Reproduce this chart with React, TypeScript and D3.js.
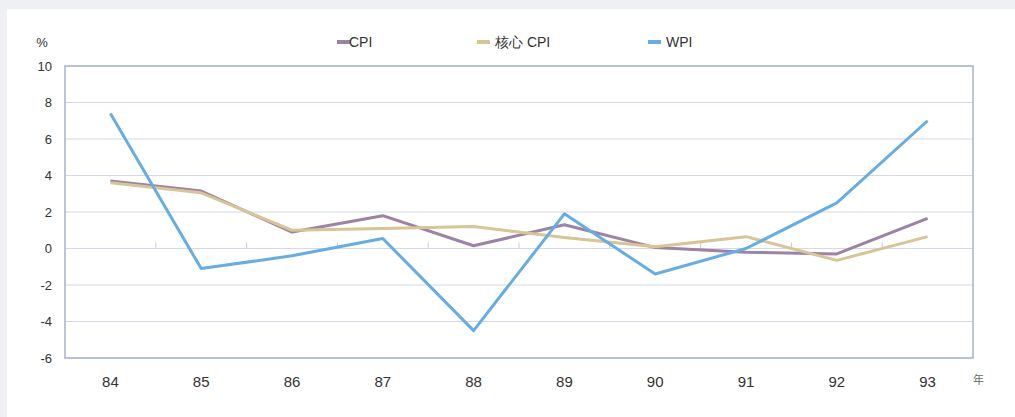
import React from "react";
import * as d3 from "d3";

// 年度 (民國), y 軸單位 %
const YEARS = ["84", "85", "86", "87", "88", "89", "90", "91", "92", "93"];
const CPI = [3.7, 3.15, 0.9, 1.8, 0.15, 1.3, 0.05, -0.2, -0.3, 1.65];
const CORE_CPI = [3.6, 3.05, 1.0, 1.1, 1.2, 0.6, 0.1, 0.65, -0.65, 0.65];
const WPI = [7.4, -1.1, -0.4, 0.55, -4.5, 1.9, -1.4, 0.0, 2.5, 7.0];
const Y_TICKS = [10, 8, 6, 4, 2, 0, -2, -4, -6];

const SERIES = [
  { name: "CPI", values: CPI, color: "#9c82a4" },
  { name: "核心 CPI", values: CORE_CPI, color: "#d8c494" },
  { name: "WPI", values: WPI, color: "#67ade2" },
];

const W = 1015;
const H = 417;
const M = { left: 65, right: 42, top: 66, bottom: 59 };
const FONT = "'Liberation Sans', Arial, Helvetica, sans-serif";

export default function App() {
  const iW = W - M.left - M.right;
  const iH = H - M.top - M.bottom;

  const x = d3.scaleBand<string>().domain(YEARS).range([0, iW]);
  const y = d3.scaleLinear().domain([-6, 10]).range([iH, 0]);
  const cx = (i: number) => (x(YEARS[i]) ?? 0) + x.bandwidth() / 2;

  const line = d3
    .line<number>()
    .x((_, i) => cx(i))
    .y((v) => y(v));

  // legend positions (swatch start x) and label
  const legendX = [337, 477, 648];

  return (
    <svg
      width={W}
      height={H}
      style={{ position: "absolute", left: 0, top: 0 }}
      fontFamily={FONT}
    >
      <rect x={0} y={0} width={W} height={H} fill="#eff0f3" />
      <rect x={7} y={9} width={W - 7} height={H - 9} fill="#ffffff" />

      {/* unit */}
      <text x={42} y={47} textAnchor="middle" fontSize={13} fill="#333">%</text>

      {/* legend */}
      {SERIES.map((s, i) => (
        <g key={s.name} transform={`translate(${legendX[i]},42)`}>
          <line x1={0} x2={13} y1={0} y2={0} stroke={s.color} strokeWidth={4} />
          <text x={i === 0 ? 12 : 18} y={5} fontSize={14} fill="#333">
            {s.name}
          </text>
        </g>
      ))}

      <g transform={`translate(${M.left},${M.top})`}>
        {/* gridlines */}
        {Y_TICKS.map((t) => (
          <line key={t} x1={0} x2={iW} y1={y(t)} y2={y(t)} stroke="#d3d9e8" strokeWidth={1} />
        ))}

        {/* y labels */}
        {Y_TICKS.map((t) => (
          <text
            key={t}
            x={-13}
            y={y(t)}
            dy="0.35em"
            textAnchor="end"
            fontSize={13}
            fill="#333"
          >
            {t}
          </text>
        ))}

        {/* small category ticks on the zero line */}
        {YEARS.slice(1).map((yr) => (
          <line
            key={yr}
            x1={x(yr) ?? 0}
            x2={x(yr) ?? 0}
            y1={y(0)}
            y2={y(0) - 6}
            stroke="#c5cbd8"
            strokeWidth={1}
          />
        ))}

        {/* x labels */}
        {YEARS.map((yr, i) => (
          <text key={yr} x={cx(i)} y={iH + 29} textAnchor="middle" fontSize={15} fill="#333">
            {yr}
          </text>
        ))}
        <text x={iW + 0} y={iH + 26} fontSize={11} fill="#666"
          fontFamily="'Noto Sans CJK TC', 'Noto Sans CJK SC', sans-serif">
          年
        </text>

        {/* series */}
        {SERIES.map((s) => (
          <path
            key={s.name}
            d={line(s.values) ?? ""}
            fill="none"
            stroke={s.color}
            strokeWidth={3}
            strokeLinejoin="round"
          />
        ))}

        {/* frame */}
        <rect x={0} y={0} width={iW} height={iH} fill="none" stroke="#a9b3cb" strokeWidth={1.5} />
      </g>
    </svg>
  );
}
